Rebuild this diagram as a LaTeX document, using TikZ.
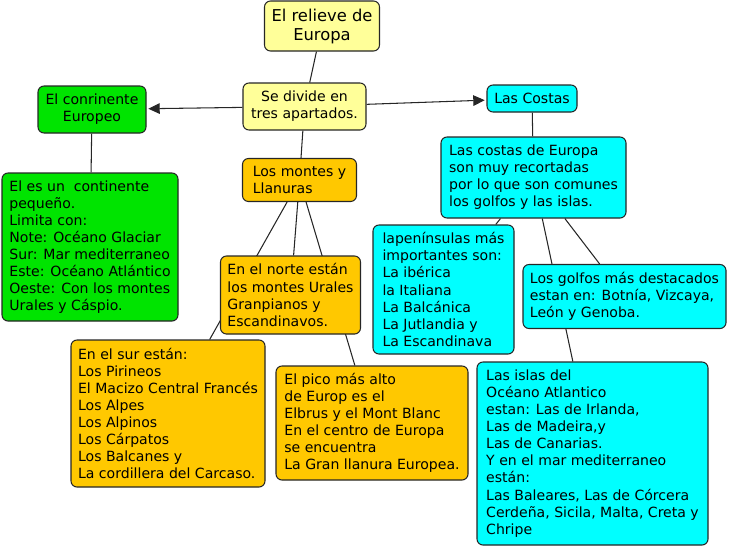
\documentclass[tikz,border=0pt]{standalone}
\usepackage{fontspec}
\setmainfont{DejaVu Sans}
\usepackage{tikz}
\usetikzlibrary{arrows.meta}
\usetikzlibrary{backgrounds}
\usepackage{xcolor}

\definecolor{amarillo}{HTML}{FFFF99}
\definecolor{verde}{HTML}{00E400}
\definecolor{naranja}{HTML}{FFC800}
\definecolor{cian}{HTML}{00FFFF}

\tikzset{
    caja/.style={draw=black!85, rectangle, rounded corners=3.4pt, line width=0.6pt, align=left, inner sep=2pt, font=\fontsize{8}{9.7}\selectfont},
    enlace/.style={draw=black!85, line width=0.6pt},
    flecha/.style={enlace, -{Triangle[length=6.5pt, width=6pt]}, shorten >=1pt},
}

\begin{document}
\begin{tikzpicture}
        \useasboundingbox (0,0) rectangle (14.58,-10.96);
        % 上の二つ
        \node[caja, fill=amarillo, align=center, minimum width=2.30cm, minimum height=1.0cm, font=\fontsize{9.3}{10.8}\selectfont] (Relieve) at (6.44,-0.52) {El relieve de\\Europa};
        \node[caja, fill=amarillo, align=center, minimum width=2.46cm, minimum height=0.94cm] (Divide) at (6.09,-2.13) {Se divide en\\tres apartados.};
        % 左(緑)
        \node[caja, fill=verde, align=center, minimum width=2.16cm, minimum height=0.94cm] (Continente) at (1.84,-2.19) {El conrinente\\Europeo};
        \node[caja, fill=verde, minimum width=3.52cm, minimum height=2.96cm] (Europa) at (1.80,-4.94) {El es un\ \ continente\\pequeño.\\Limita con:\\Note: Océano Glaciar\\Sur: Mar mediterraneo\\Este: Océano Atlántico\\Oeste: Con los montes\\Urales y Cáspio.};
        % 中央(橙)
        \node[caja, fill=naranja, minimum width=2.28cm, minimum height=0.86cm] (Montes) at (5.99,-3.60) {Los montes y\\Llanuras};
        \node[caja, fill=naranja, minimum width=2.80cm, minimum height=1.56cm] (Norte) at (5.81,-5.90) {En el norte están\\los montes Urales\\Granpianos y\\Escandinavos.};
        \node[caja, fill=naranja, minimum width=3.88cm, minimum height=2.94cm] (Sur) at (3.36,-8.27) {En el sur están:\\Los Pirineos\\El Macizo Central Francés\\Los Alpes\\Los Alpinos\\Los Cárpatos\\Los Balcanes y\\La cordillera del Carcaso.};
        \node[caja, fill=naranja, minimum width=3.84cm, minimum height=2.28cm] (Pico) at (7.44,-8.46) {El pico más alto\\de Europ es el\\Elbrus y el Mont Blanc\\En el centro de Europa\\se encuentra\\La Gran llanura Europea.};
        % 右(シアン)
        \node[caja, fill=cian, minimum width=1.80cm, minimum height=0.54cm] (Costas) at (10.64,-1.97) {Las Costas};
        \node[caja, fill=cian, minimum width=3.70cm, minimum height=1.62cm] (CostasTxt) at (10.67,-3.55) {Las costas de Europa\\son muy recortadas\\por lo que son comunes\\los golfos y las islas.};
        \node[caja, fill=cian, minimum width=2.82cm, minimum height=2.58cm] (Peninsulas) at (8.87,-5.79) {lapenínsulas más\\importantes son:\\La ibérica\\la Italiana\\La Balcánica\\La Jutlandia y\\La Escandinava};
        \node[caja, fill=cian, minimum width=4.06cm, minimum height=1.28cm] (Golfos) at (12.49,-5.93) {Los golfos más destacados\\estan en: Botnía, Vizcaya,\\León y Genoba.};
        \node[caja, fill=cian, minimum width=4.62cm, minimum height=3.66cm] (Islas) at (11.85,-9.07) {Las islas del\\Océano Atlantico\\estan: Las de Irlanda,\\Las de Madeira,y\\Las de Canarias.\\Y en el mar mediterraneo\\están:\\Las Baleares, Las de Córcera\\Cerdeña, Sicila, Malta, Creta y\\Chripe};
        % 線で接続
        \begin{pgfonlayer}{background}
            \draw[enlace] (Relieve) -- (Divide);
            \draw[flecha] (Divide) -- (Continente);
            \draw[flecha] (Divide) -- (Costas);
            \draw[enlace] (Divide) -- (Montes);
            \draw[enlace] (Continente) -- (Europa);
            \draw[enlace] (Montes) -- (Norte);
            \draw[enlace] (Montes) -- (Sur);
            \draw[enlace] (Montes) -- (Pico);
            \draw[enlace] (Costas) -- (CostasTxt);
            \draw[enlace] (CostasTxt) -- (Peninsulas);
            \draw[enlace] (CostasTxt) -- (Golfos);
            \draw[enlace] (CostasTxt) -- (Islas);
        \end{pgfonlayer}
    \end{tikzpicture}
\end{document}
